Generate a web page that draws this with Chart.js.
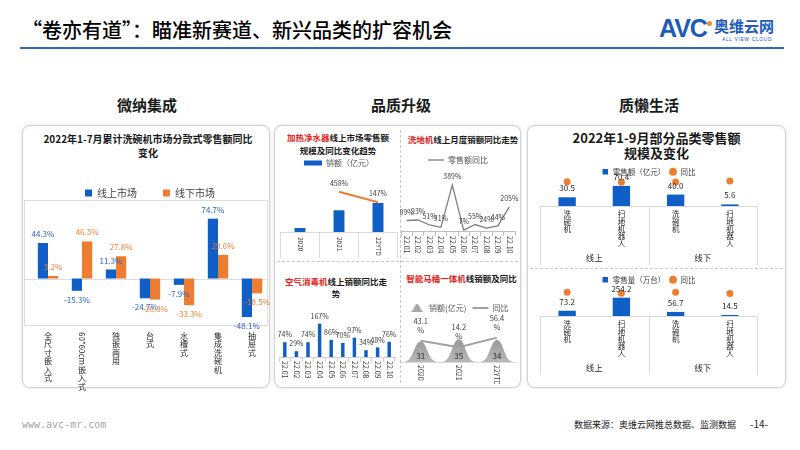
<!DOCTYPE html>
<html lang="zh-CN"><head><meta charset="utf-8"><title>卷亦有道</title>
<script src="https://cdn.jsdelivr.net/npm/chart.js@4/dist/chart.umd.min.js"></script>
<style>
html,body{margin:0;padding:0;background:#fff}
body{width:800px;height:450px;position:relative;overflow:hidden;font-family:'Noto Sans CJK SC','Noto Sans',sans-serif;color:#1a1a1a}
.a{position:absolute;white-space:nowrap}
.panel{position:absolute;border:1px solid #d2d2d2;border-radius:8px;box-shadow:0 0 3px rgba(0,0,0,.15);background:#fff;box-sizing:border-box}
.sec{position:absolute;top:94px;width:200px;margin-left:-100px;text-align:center;font-size:15px;font-weight:bold;line-height:22px;color:#1a1a1a}
.t{position:absolute;text-align:center;font-weight:bold;white-space:nowrap;color:#1a1a1a}
.red{color:#e3231c}
canvas{position:absolute}
.vd{position:absolute;border-left:1px dashed #c9c9c9;width:0}
.hd{position:absolute;border-top:1px dashed #c9c9c9;height:0}
</style></head><body>
<div class="a" style="left:22px;top:16px;font-size:20px;line-height:28px;font-weight:500;color:#000">“卷亦有道”：瞄准新赛道、新兴品类的扩容机会</div>
<div class="a" style="left:20px;top:47px;width:764px;height:2px;background:#2e6cbd"></div>
<div class="a" style="left:659px;top:14px;font-family:'Liberation Sans',Arial,sans-serif;font-weight:bold;font-size:25px;line-height:28px;color:#1d5cb8;letter-spacing:-1px">AVC</div>
<div class="a" style="left:707px;top:21px;width:5px;height:5px;border-radius:50%;background:#f08a24"></div>
<div class="a" style="left:714px;top:16px;font-size:15px;line-height:20px;font-weight:bold;color:#1d5cb8">奥维云网</div>
<div class="a" style="left:722px;top:36px;font-size:5px;line-height:6px;font-family:'Liberation Sans',Arial,sans-serif;color:#1d5cb8;letter-spacing:.6px">ALL VIEW CLOUD</div>

<div class="sec" style="left:147px">微纳集成</div>
<div class="sec" style="left:401px">品质升级</div>
<div class="sec" style="left:649px">质懒生活</div>

<div class="panel" style="left:22px;top:125px;width:248px;height:263px"></div>
<div class="panel" style="left:274px;top:125px;width:247px;height:263px"></div>
<div class="panel" style="left:527px;top:125px;width:259px;height:263px"></div>

<div class="vd" style="left:400px;top:130px;height:253px"></div>
<div class="hd" style="left:277px;top:261px;width:241px"></div>
<div class="hd" style="left:530px;top:268px;width:253px"></div>

<div class="t" style="left:22px;top:132px;width:252px;font-size:10px;line-height:14px">2022年1-7月累计洗碗机市场分款式零售额同比<br>变化</div>
<div class="t" style="left:276px;top:131px;width:124px;font-size:8.5px;line-height:13px"><span class="red">加热净水器</span>线上市场零售额<br>规模及同比变化趋势</div>
<div class="t" style="left:403px;top:133px;width:120px;font-size:8.5px;line-height:12px"><span class="red">洗地机</span>线上月度销额同比走势</div>
<div class="t" style="left:276px;top:275px;width:120px;font-size:8.5px;line-height:12px"><span class="red">空气消毒机</span>线上销额同比走<br>势</div>
<div class="t" style="left:401px;top:272px;width:121px;font-size:8.5px;line-height:12px"><span class="red">智能马桶一体机</span>线销额及同比</div>
<div class="t" style="left:527px;top:130px;width:259px;font-size:13px;line-height:15px">2022年1-9月部分品类零售额<br>规模及变化</div>

<div class="a" style="left:22px;top:418px;font-size:10px;line-height:14px;font-family:'DejaVu Sans Mono',monospace;color:#a6a6a6">www.avc-mr.com</div>
<div class="a" style="right:64px;top:418px;font-size:9px;line-height:14px;color:#1a1a1a">数据来源：奥维云网推总数据、监测数据</div>
<div class="a" style="left:750px;top:417px;font-size:10px;line-height:14px;color:#1a1a1a">-14-</div>

<script>
// ---------- data ----------
const dwCats = ['全尺寸嵌入式','60*60cm嵌入式','独嵌两用','台式','水槽式','集成洗碗机','抽屉式'];
const dwOnline = [44.3,-15.3,11.3,-24.7,-7.9,74.7,-48.1];
const dwOffline = [3.2,46.3,27.8,-26.3,-33.3,29.6,-18.5];

const hwYears = ['2020','2021','22YTD'];
const hwSales = [0.6,3.3,4.4];
const hwYoy = [null,458,147];

const monthLabels = ['22.01','22.02','22.03','22.04','22.05','22.06','22.07','22.08','22.09','22.10'];
const fwYoy = [89,93,51,31,389,7,55,24,44,205];
const adYoy = [74,29,74,167,86,70,97,34,48,76];

const tlYears = ['2020','2021','22YTD'];
const tlSales = [31,35,34];
const tlYoy = [43.1,14.2,56.4];

const rCats = ['洗碗机','扫地机器人','洗碗机','扫地机器人'];
const rGroups = ['线上','线下'];
const rSales = [30.5,70.4,40.0,5.6];
const rSalesYoy = [87,85,86,89];
const rVol = [73.2,254.2,56.7,14.5];
const rVolYoy = [88,84,88,83];

// ---------- setup ----------
const FONT = "'Noto Sans CJK SC','Noto Sans',sans-serif";
const BLUE = '#0f5fc6', ORANGE = '#ed7d31';
Chart.defaults.font.family = FONT;
Chart.defaults.animation = false;
Chart.defaults.responsive = false;
Chart.defaults.devicePixelRatio = 1;
Chart.defaults.plugins.tooltip.enabled = false;
Chart.defaults.color = '#404040';

const valueLabels = {
  id:'valueLabels',
  afterDatasetsDraw(chart){
    const ctx = chart.ctx;
    chart.data.datasets.forEach((ds,i)=>{
      const L = ds.lbl; if(!L) return;
      const meta = chart.getDatasetMeta(i);
      ctx.save();
      ctx.font = (L.weight||'normal')+' '+L.size+'px '+FONT;
      ctx.fillStyle = L.color; ctx.textAlign = 'center';
      const lh = L.lh || L.size*1.2;
      meta.data.forEach((el,j)=>{
        const v = ds.data[j]; if(v===null||v===undefined) return;
        const t = L.fmt(v); const lines = Array.isArray(t)?t:[t];
        const x = el.x;
        if(L.mode==='inside'){ ctx.textBaseline='bottom'; lines.slice().reverse().forEach((s,k)=>ctx.fillText(s,x,el.base-L.off-k*lh)); }
        else if(L.mode==='bar' && v<0){ ctx.textBaseline='top'; lines.forEach((s,k)=>ctx.fillText(s,x,el.y+L.off+k*lh)); }
        else { ctx.textBaseline='bottom'; lines.slice().reverse().forEach((s,k)=>ctx.fillText(s,x,el.y-L.off-k*lh)); }
      });
      ctx.restore();
    });
  }
};
// vertical tick labels: CJK upright, ASCII runs rotated clockwise
const vtext = {
  id:'vtext',
  afterDraw(chart,args,o){
    if(!o || !o.on) return;
    const s = chart.scales.x, ctx = chart.ctx;
    ctx.save(); ctx.font = o.size+'px '+FONT; ctx.fillStyle = o.color;
    chart.data.labels.forEach((lab,i)=>{
      const x = s.getPixelForTick(i); let y = chart.chartArea.bottom + o.pad;
      (lab.match(/[\x00-\x7f]+|[^\x00-\x7f]/g)||[]).forEach(sg=>{
        if(/^[\x00-\x7f]+$/.test(sg)){
          const w = ctx.measureText(sg).width;
          ctx.save(); ctx.translate(x,y); ctx.rotate(Math.PI/2);
          ctx.textAlign='left'; ctx.textBaseline='middle'; ctx.fillText(sg,0,0); ctx.restore();
          y += w+1;
        } else {
          ctx.textAlign='center'; ctx.textBaseline='top'; ctx.fillText(sg,x,y); y += o.lh;
        }
      });
    });
    ctx.restore();
  }
};
const areaBox = {
  id:'areaBox',
  beforeDatasetsDraw(chart,args,o){
    if(!o || !o.on) return;
    const ctx = chart.ctx, a = chart.chartArea;
    ctx.save(); ctx.strokeStyle = o.color; ctx.lineWidth = 1;
    ctx.strokeRect(o.left+0.5, Math.round(a.top)+0.5, chart.width-o.left-o.right-1, Math.round(a.bottom-a.top));
    const y0 = Math.round(chart.scales.y.getPixelForValue(0))+0.5;
    ctx.beginPath(); ctx.moveTo(o.left, y0); ctx.lineTo(chart.width-o.right, y0); ctx.stroke();
    ctx.restore();
  }
};
const groupLines = {
  id:'groupLines',
  afterDraw(chart,args,o){
    if(!o || !o.on) return;
    const x = chart.scales.x, x2 = chart.scales.x2, ctx = chart.ctx;
    const xs = [x.left, (x.getPixelForValue(1)+x.getPixelForValue(2))/2, x.right];
    ctx.save(); ctx.strokeStyle = o.color; ctx.lineWidth = 1;
    xs.forEach(px=>{ const p = Math.round(px)+0.5; ctx.beginPath(); ctx.moveTo(p, chart.chartArea.bottom); ctx.lineTo(p, x2.bottom-o.cut); ctx.stroke(); });
    ctx.restore();
  }
};
function bell(ctx,l,r,top,base){
  const w = r-l, x = (l+r)/2;
  ctx.beginPath(); ctx.moveTo(l,base);
  ctx.bezierCurveTo(l+w*0.3, base, x-w*0.2, top, x, top);
  ctx.bezierCurveTo(x+w*0.2, top, r-w*0.3, base, r, base);
  ctx.closePath();
}
const mountain = {
  id:'mountain',
  beforeDatasetDraw(chart,args){
    const ds = chart.data.datasets[args.index];
    if(!ds.mountain) return;
    const ctx = chart.ctx;
    ctx.save();
    args.meta.data.forEach(el=>{
      bell(ctx, el.x-el.width/2, el.x+el.width/2, el.y, el.base);
      const g = ctx.createLinearGradient(0, el.y, 0, el.base);
      g.addColorStop(0,'#9a9a9a'); g.addColorStop(1,'#b8b8b8');
      ctx.fillStyle = g; ctx.fill();
    });
    ctx.restore();
    return false;
  }
};
Chart.register(valueLabels, vtext, areaBox, groupLines, mountain);

function cv(left, top, w, h){
  const c = document.createElement('canvas');
  c.width = w; c.height = h;
  c.style.left = left+'px'; c.style.top = top+'px'; c.style.width = w+'px'; c.style.height = h+'px';
  document.body.appendChild(c); return c;
}
const bySet = (a,b)=>a.datasetIndex-b.datasetIndex;

// ---------- A: 洗碗机分款式 ----------
new Chart(cv(22,162,248,233), {
  type:'bar',
  data:{labels:dwCats, datasets:[
    {label:'线上市场', data:dwOnline, backgroundColor:BLUE, categoryPercentage:0.6, barPercentage:1,
     lbl:{fmt:v=>v.toFixed(1)+'%', color:'#2a63c8', size:8, off:5, mode:'bar'}},
    {label:'线下市场', data:dwOffline, backgroundColor:ORANGE, categoryPercentage:0.6, barPercentage:1,
     lbl:{fmt:v=>v.toFixed(1)+'%', color:ORANGE, size:8, off:5, mode:'bar'}}
  ]},
  options:{
    layout:{padding:{left:9,right:1}},
    plugins:{
      legend:{maxHeight:38, labels:{boxWidth:7, boxHeight:7, padding:26, font:{size:10}, color:'#404040'}},
      vtext:{on:true, size:8, lh:8.4, pad:7, color:'#262626'},
      areaBox:{on:true, left:2, right:2, color:'#dcdcdc'}
    },
    scales:{
      x:{ticks:{display:false}, grid:{display:false, drawTicks:false}, border:{display:false}, afterFit:s=>{s.height=70;}},
      y:{display:false, min:-58, max:98}
    }
  }
});

// ---------- B: 加热净水器 ----------
new Chart(cv(276,147,124,111), {
  type:'bar',
  data:{labels:hwYears, datasets:[
    {label:'销额（亿元）', data:hwSales, backgroundColor:BLUE, barPercentage:0.28, categoryPercentage:1, pointStyle:'rect', order:1},
    {type:'line', label:'同比', data:hwYoy, yAxisID:'y2', borderColor:ORANGE, borderWidth:2, pointRadius:0,
     pointStyle:'line', pointBorderColor:ORANGE, pointBorderWidth:2, order:0,
     lbl:{fmt:v=>v+'%', color:'#404040', size:7, off:5, mode:'line'}}
  ]},
  options:{
    layout:{padding:{left:4.5,right:2.5}},
    plugins:{
      legend:{maxHeight:23, labels:{usePointStyle:true, pointStyleWidth:18, boxHeight:5, padding:12, font:{size:8}, color:'#595959', sort:bySet}},
      vtext:{on:true, size:6.5, lh:7, pad:5, color:'#404040'}
    },
    scales:{
      x:{ticks:{display:false}, grid:{offset:true, drawOnChartArea:false, tickLength:26, color:'#d9d9d9'},
         border:{display:true, color:'#d9d9d9'}, afterFit:s=>{s.height=26;}},
      y:{display:false, min:0, max:9.4},
      y2:{display:false, min:-724, max:1094}
    }
  }
});

// ---------- C: 洗地机 ----------
new Chart(cv(400,148,120,110), {
  type:'line',
  data:{labels:monthLabels, datasets:[
    {label:'零售额同比', data:fwYoy, borderColor:'#7f7f7f', borderWidth:1.3, pointRadius:0,
     pointStyle:'line', pointBorderColor:'#7f7f7f', pointBorderWidth:1.3,
     lbl:{fmt:v=>v+'%', color:'#404040', size:7, off:5, mode:'line'}}
  ]},
  options:{
    layout:{padding:{left:1,right:5}},
    plugins:{
      legend:{maxHeight:22, labels:{usePointStyle:true, pointStyleWidth:16, boxHeight:5, padding:8, font:{size:8}, color:'#595959'}},
      vtext:{on:true, size:7, lh:7, pad:5, color:'#404040'}
    },
    scales:{
      x:{offset:true, ticks:{display:false}, grid:{offset:true, drawOnChartArea:false, tickLength:5, color:'#bfbfbf'},
         border:{display:true, color:'#bfbfbf'}, afterFit:s=>{s.height=27;}},
      y:{display:false, min:0, max:517}
    }
  }
});

// ---------- D: 空气消毒机 ----------
new Chart(cv(276,300,124,85), {
  type:'bar',
  data:{labels:monthLabels, datasets:[
    {label:'同比', data:adYoy, backgroundColor:BLUE, barPercentage:0.3, categoryPercentage:1,
     lbl:{fmt:v=>v+'%', color:'#404040', size:7, off:4, mode:'bar'}}
  ]},
  options:{
    layout:{padding:{top:5,left:3,right:5}},
    plugins:{
      legend:{display:false},
      vtext:{on:true, size:7, lh:7, pad:4, color:'#404040'}
    },
    scales:{
      x:{ticks:{display:false}, grid:{offset:true, drawOnChartArea:false, tickLength:5, color:'#d0d0d0'},
         border:{display:true, color:'#d0d0d0'}, afterFit:s=>{s.height=28;}},
      y:{display:false, min:0, max:260}
    }
  }
});

// ---------- E: 智能马桶一体机 ----------
const icon = document.createElement('canvas'); icon.width = 15; icon.height = 8;
(function(){ const c = icon.getContext('2d'); bell(c,0,15,0,8); c.fillStyle='#a6a6a6'; c.fill(); })();
new Chart(cv(400,298,120,86), {
  type:'bar',
  data:{labels:tlYears, datasets:[
    {label:'销额(亿元)', data:tlSales, backgroundColor:'#a8a8a8', mountain:true, pointStyle:icon,
     barPercentage:1, categoryPercentage:0.9, order:1,
     lbl:{fmt:v=>String(v), color:'#262626', size:8, off:2, mode:'inside'}},
    {type:'line', label:'同比', data:tlYoy, yAxisID:'y2', borderColor:'#a0a0a0', borderWidth:2, pointRadius:0,
     pointStyle:'line', pointBorderColor:'#a0a0a0', pointBorderWidth:2, order:0,
     lbl:{fmt:v=>[v.toFixed(1),'%'], color:'#404040', size:7.5, lh:9, off:7, mode:'line'}}
  ]},
  options:{
    layout:{padding:{left:1.6,right:4}},
    plugins:{
      legend:{maxHeight:17, labels:{usePointStyle:true, pointStyleWidth:16, boxHeight:5, padding:6, font:{size:8}, color:'#595959', sort:bySet}},
      vtext:{on:true, size:7, lh:7, pad:3, color:'#404040'}
    },
    scales:{
      x:{ticks:{display:false}, grid:{display:false, drawTicks:false}, border:{display:true, color:'#d9d9d9'}, afterFit:s=>{s.height=22;}},
      y:{display:false, min:0, max:72.3},
      y2:{display:false, min:-50.4, max:155.7}
    }
  }
});

// ---------- F & G: 右侧 ----------
function rightChart(top, h, legendH, legendText, vals, yoy, ymax){
  return new Chart(cv(527,top,259,h), {
    type:'bar',
    data:{labels:rCats.map(s=>s.split('')), datasets:[
      {label:legendText, data:vals, backgroundColor:BLUE, barPercentage:0.32, categoryPercentage:1, pointStyle:'rect', order:1,
       lbl:{fmt:v=>v.toFixed(1), color:'#262626', size:8, off:5, mode:'bar'}},
      {type:'line', label:'同比', data:yoy, yAxisID:'y2', showLine:false, pointStyle:'circle', pointRadius:3.5,
       backgroundColor:ORANGE, borderColor:ORANGE, pointBackgroundColor:ORANGE, pointBorderColor:ORANGE, pointBorderWidth:0, order:0, clip:false}
    ]},
    options:{
      layout:{padding:{left:13,right:29}},
      plugins:{
        legend:{maxHeight:legendH, labels:{usePointStyle:true, boxHeight:5.5, padding:4, font:{size:7.5}, color:'#404040', sort:bySet}},
        groupLines:{on:true, color:'#d9d9d9', cut:1}
      },
      scales:{
        x:{weight:0, ticks:{font:{size:7.5, lineHeight:0.97}, color:'#262626', padding:5, maxRotation:0, autoSkip:false},
           grid:{display:false, drawTicks:false}, border:{display:true, color:'#d9d9d9'}, afterFit:s=>{s.height=46;}},
        x2:{type:'category', position:'bottom', weight:1, labels:rGroups, offset:true,
            ticks:{font:{size:8.5}, color:'#262626', padding:1}, grid:{display:false, drawTicks:false}, border:{display:false},
            afterFit:s=>{s.height=14;}},
        y:{display:false, min:0, max:ymax},
        y2:{display:false, min:0, max:100}
      }
    }
  });
}
rightChart(164, 102, 14, '零售额（亿元）', rSales, rSalesYoy, 98);
rightChart(272, 104, 17, '零售量（万台）', rVol, rVolYoy, 375);
</script>
</body></html>
